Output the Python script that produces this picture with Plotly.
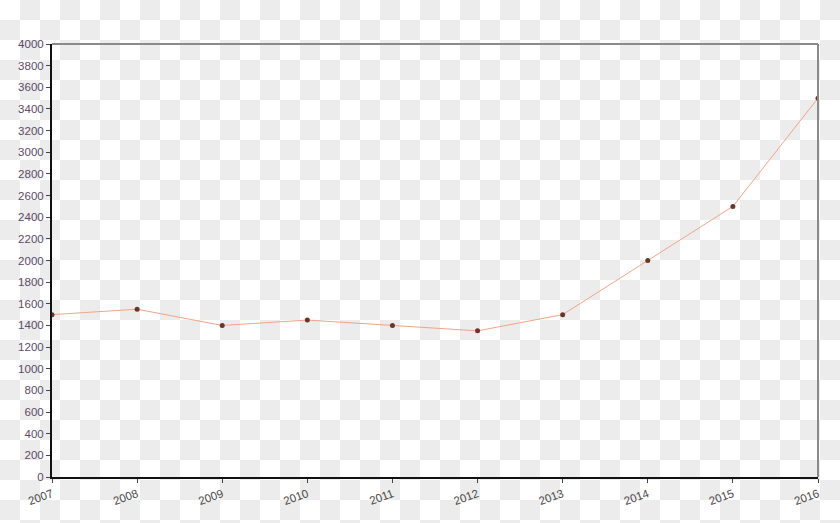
import base64
import plotly.graph_objects as go

years = ["2007", "2008", "2009", "2010", "2011", "2012", "2013", "2014", "2015", "2016"]
values = [1500, 1550, 1400, 1450, 1400, 1350, 1500, 2000, 2500, 3500]
y_ticks = list(range(0, 4001, 200))

W, H = 840, 523
CELL = 20
PL, PR, PT, PB = 52, 818, 44, 477  # plot-area pixel box

# transparency-style checkerboard background outside the plot box (20px squares)
svg = (
    f'<svg xmlns="http://www.w3.org/2000/svg" width="{W}" height="{H}">'
    '<defs><pattern id="p" width="40" height="40" patternUnits="userSpaceOnUse">'
    '<rect width="40" height="40" fill="#ffffff"/>'
    '<rect x="20" y="0" width="20" height="20" fill="#ececec"/>'
    '<rect x="0" y="20" width="20" height="20" fill="#ececec"/>'
    '</pattern></defs>'
    f'<rect width="{W}" height="{H}" fill="url(#p)"/></svg>'
)
bg_uri = "data:image/svg+xml;base64," + base64.b64encode(svg.encode()).decode()

# same checkerboard inside the plot box, drawn as filled vector squares
cx, cy = [], []
for r in range(PT // CELL, PB // CELL + 1):
    for c in range(PL // CELL, PR // CELL + 1):
        if (r + c) % 2 == 1:
            x0, x1 = c * CELL, (c + 1) * CELL
            y0, y1 = r * CELL, (r + 1) * CELL
            cx += [x0, x1, x1, x0, x0, None]
            cy += [y0, y0, y1, y1, y0, None]

fig = go.Figure()

fig.add_trace(go.Scatter(
    x=cx, y=cy, mode="lines", fill="toself", fillcolor="#ececec",
    line=dict(width=0, color="rgba(0,0,0,0)"), hoverinfo="skip",
    connectgaps=False, xaxis="x", yaxis="y",
))

fig.add_trace(go.Scatter(
    x=years, y=values, mode="lines+markers",
    line=dict(color="#f2a487", width=1),
    marker=dict(color="#6b3528", size=5),
    hoverinfo="skip", xaxis="x2", yaxis="y2",
))

x0d, x1d = PL / W, PR / W
y0d, y1d = (H - PB) / H, (H - PT) / H

fig.update_layout(
    width=W, height=H,
    margin=dict(l=0, r=0, t=0, b=0),
    paper_bgcolor="rgba(0,0,0,0)", plot_bgcolor="rgba(0,0,0,0)",
    showlegend=False,
    images=[dict(source=bg_uri, xref="paper", yref="paper", x=0, y=1,
                 sizex=1, sizey=1, xanchor="left", yanchor="top",
                 sizing="stretch", layer="below")],
    xaxis=dict(domain=[x0d, x1d], range=[PL, PR], visible=False, fixedrange=True),
    yaxis=dict(domain=[y0d, y1d], range=[PB, PT], visible=False, fixedrange=True),
    xaxis2=dict(
        overlaying="x", anchor="y2", type="category", range=[0, len(years) - 1],
        tickangle=-20, showgrid=False, zeroline=False,
        showline=True, linecolor="#111111", linewidth=2,
        ticks="outside", ticklen=4,
        tickfont=dict(family="Liberation Sans, Arial", size=11.5, color="#4a4a4a"),
        automargin=False,
    ),
    yaxis2=dict(
        overlaying="y", anchor="x2", side="left", range=[0, 4000],
        tickmode="array", tickvals=y_ticks, ticktext=[str(v) for v in y_ticks],
        showgrid=False, zeroline=False,
        showline=True, linecolor="#111111", linewidth=2,
        ticks="outside", ticklen=4,
        tickfont=dict(family="Liberation Sans, Arial", size=11.5, color="#5a4a68"),
        automargin=False,
    ),
    shapes=[
        dict(type="line", xref="x2 domain", yref="y2 domain", x0=0, x1=1, y0=1, y1=1,
             line=dict(color="#8a8a8a", width=2)),
        dict(type="line", xref="x2 domain", yref="y2 domain", x0=1, x1=1, y0=0, y1=1,
             line=dict(color="#8a8a8a", width=2)),
    ],
)

fig.write_html(
    "out.html",
    config={"staticPlot": True, "displayModeBar": False},
    post_script="document.body.style.margin='0';",
)
